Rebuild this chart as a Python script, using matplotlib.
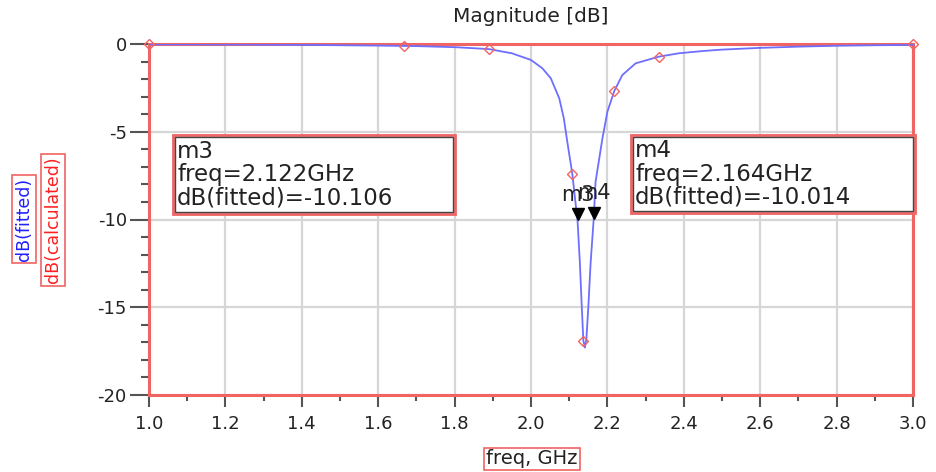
import numpy as np
import matplotlib
matplotlib.use("Agg")
import matplotlib.pyplot as plt
from matplotlib.patches import Rectangle
from matplotlib.ticker import MultipleLocator
import matplotlib.transforms as mtransforms

# ---- data ----
fit_freq = [1.0, 1.2, 1.4, 1.6, 1.7, 1.8, 1.89, 1.95, 2.0, 2.03, 2.052, 2.074,
            2.086, 2.095, 2.108, 2.122, 2.128, 2.133, 2.137, 2.141, 2.145,
            2.150, 2.156, 2.164, 2.169, 2.187, 2.2, 2.218, 2.239, 2.274,
            2.335, 2.387, 2.45, 2.5, 2.6, 2.7, 2.8, 2.9, 3.0]
fit_db = [-0.02, -0.03, -0.05, -0.09, -0.12, -0.18, -0.29, -0.53, -0.91, -1.39,
          -1.96, -3.1, -4.24, -5.57, -7.38, -10.11, -12.5, -15.0, -16.9, -17.3,
          -16.8, -15.0, -12.5, -10.01, -7.85, -5.38, -3.86, -2.68, -1.77, -1.10,
          -0.72, -0.53, -0.4, -0.32, -0.22, -0.15, -0.1, -0.07, -0.05]

calc_freq = [1.0, 1.667, 1.890, 2.108, 2.137, 2.2175, 2.335, 3.0]
calc_db = [0.0, -0.11, -0.29, -7.38, -16.9, -2.68, -0.72, 0.0]

marker_names = ["m3", "m4"]
marker_freq = [2.122, 2.164]
marker_db = [-10.106, -10.014]

W, H = 936, 472
fig = plt.figure(figsize=(W / 100, H / 100), dpi=100)
ax = fig.add_axes([149 / W, 1 - 395 / H, (913 - 149) / W, (395 - 44) / H])

RED = "#f06464"
BLUE = "#6e6eff"
TXT = "#222222"

ax.plot(fit_freq, fit_db, color=BLUE, lw=1.3, zorder=3)
ax.plot(calc_freq, calc_db, ls="none", marker="D", ms=5, mfc="none",
        mec=RED, mew=1.0, clip_on=False, zorder=4)

# marker triangles (tip on the data point)
tri = mtransforms.offset_copy(ax.transData, fig=fig, x=0, y=5, units="points")
ax.plot(marker_freq, marker_db, ls="none", marker="v", ms=9, color="black",
        transform=tri, zorder=5)
for name, f, d in zip(marker_names, marker_freq, marker_db):
    ax.annotate(name, (f, d), xytext=(0, 12), textcoords="offset points",
                ha="center", va="bottom", fontsize=15, color=TXT, zorder=6)

ax.set_xlim(1.0, 3.0)
ax.set_ylim(-20, 0)
ax.xaxis.set_major_locator(MultipleLocator(0.2))
ax.xaxis.set_minor_locator(MultipleLocator(0.1))
ax.yaxis.set_major_locator(MultipleLocator(5))
ax.yaxis.set_minor_locator(MultipleLocator(1))
ax.xaxis.set_major_formatter(plt.FuncFormatter(lambda v, p: f"{v:.1f}"))
ax.yaxis.set_major_formatter(plt.FuncFormatter(lambda v, p: f"{int(round(v))}"))
ax.grid(True, which="major", color="#d6d6d6", lw=1.6)
ax.set_axisbelow(True)

ax.tick_params(axis="x", which="major", direction="out", length=8.5, width=1.5,
               color="#555555", pad=6, labelsize=13, labelcolor=TXT)
ax.tick_params(axis="x", which="minor", direction="out", length=4.5, width=1.5,
               color="#555555")
ax.tick_params(axis="y", which="major", direction="out", length=14, width=1.5,
               color="#555555", pad=2, labelsize=13, labelcolor=TXT)
ax.tick_params(axis="y", which="minor", direction="out", length=6, width=1.5,
               color="#555555")
for s in ax.spines.values():
    s.set_color(RED)
    s.set_linewidth(2.2)

# title
fig.text(531 / W, 1 - 17 / H, "Magnitude [dB]", ha="center", va="center",
         fontsize=14.5, color=TXT)

# axis labels
fig.text(532 / W, 1 - 459 / H, "freq, GHz", ha="center", va="center",
         fontsize=14, color=TXT,
         bbox=dict(boxstyle="square,pad=0.1", fc="white", ec=RED, lw=1.2))
fig.text(24 / W, 1 - 219 / H, "dB(fitted)", rotation=90, ha="center",
         va="center", fontsize=12.5, color="#2020ff",
         bbox=dict(boxstyle="square,pad=0.15", fc="white", ec=RED, lw=1.2))
fig.text(53 / W, 1 - 220 / H, "dB(calculated)", rotation=90, ha="center",
         va="center", fontsize=12.5, color="#ff2020",
         bbox=dict(boxstyle="square,pad=0.15", fc="white", ec=RED, lw=1.2))

# marker readout boxes
def readout(x0, x1, y0, y1, lines):
    fig.add_artist(Rectangle((x0 / W, 1 - y1 / H), (x1 - x0) / W, (y1 - y0) / H,
                             transform=fig.transFigure, fc="white", ec=RED,
                             lw=2.0, zorder=7))
    fig.add_artist(Rectangle(((x0 + 2) / W, 1 - (y1 - 2) / H), (x1 - x0 - 4) / W,
                             (y1 - y0 - 4) / H, transform=fig.transFigure,
                             fc="none", ec="#444444", lw=1.0, zorder=8))
    fig.text((x0 + 4) / W, 1 - (y0 + y1) / 2 / H, "\n".join(lines),
             ha="left", va="center", fontsize=16.5, color=TXT,
             linespacing=1.02, zorder=9)

readout(173, 455, 135, 214, ["m3", "freq=2.122GHz", "dB(fitted)=-10.106"])
readout(631, 915, 135, 213, ["m4", "freq=2.164GHz", "dB(fitted)=-10.014"])

fig.savefig("out.png", dpi=100)
